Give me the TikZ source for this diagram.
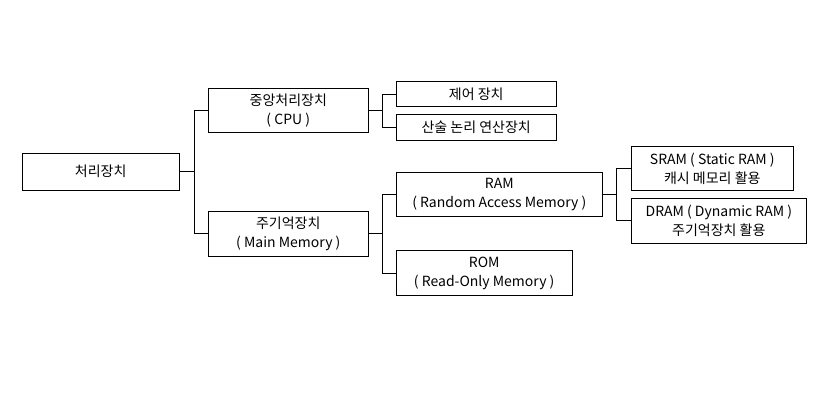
\documentclass[tikz,border=0pt]{standalone}
\usepackage{fontspec}
\setmainfont{Noto Sans CJK KR}
\begin{document}
\begin{tikzpicture}[x=1pt,y=-1pt,
  box/.style={draw=black,line width=1pt,rectangle,inner sep=0pt,align=center,
    font=\fontsize{14}{19}\selectfont},
  conn/.style={draw=black,line width=1pt}]
\useasboundingbox (0,0) rectangle (832,420);
\node[box,minimum width=157pt,minimum height=37pt] (root) at (100.7,171.7) {처리장치};
\node[box,minimum width=160pt,minimum height=44pt] (cpu) at (288.3,110.3) {중앙처리장치\\( CPU )};
\node[box,minimum width=160pt,minimum height=44.7pt] (mm) at (288.3,233.7) {주기억장치\\( Main Memory )};
\node[box,minimum width=160pt,minimum height=25pt] (ctrl) at (476.2,94.2) {제어 장치};
\node[box,minimum width=160pt,minimum height=25.7pt] (alu) at (476.2,127.2) {산술 논리 연산장치};
\node[box,minimum width=206pt,minimum height=44.4pt] (ram) at (499.3,194.5) {RAM\\( Random Access Memory )};
\node[box,minimum width=176pt,minimum height=45.4pt] (rom) at (484.2,273) {ROM\\( Read-Only Memory )};
\node[box,minimum width=162pt,minimum height=43.6pt] (sram) at (712.3,168.5) {SRAM ( Static RAM )\\캐시 메모리 활용};
\node[box,minimum width=175pt,minimum height=45pt] (dram) at (718.8,220.5) {DRAM ( Dynamic RAM )\\주기억장치 활용};
\coordinate (j1) at (194.3,171.7);
\coordinate (j2) at (382.3,110.3);
\coordinate (j3) at (382.3,233.7);
\coordinate (j4) at (616.3,194.5);
\draw[conn] (root.east) -- (j1);
\draw[conn] (cpu.west) -| (j1) |- (mm.west);
\draw[conn] (cpu.east) -- (j2);
\draw[conn] (ctrl.west) -| (j2) |- (alu.west);
\draw[conn] (mm.east) -- (j3);
\draw[conn] (ram.west) -| (j3) |- (rom.west);
\draw[conn] (ram.east) -- (j4);
\draw[conn] (sram.west) -| (j4) |- (dram.west);
\end{tikzpicture}
\end{document}
